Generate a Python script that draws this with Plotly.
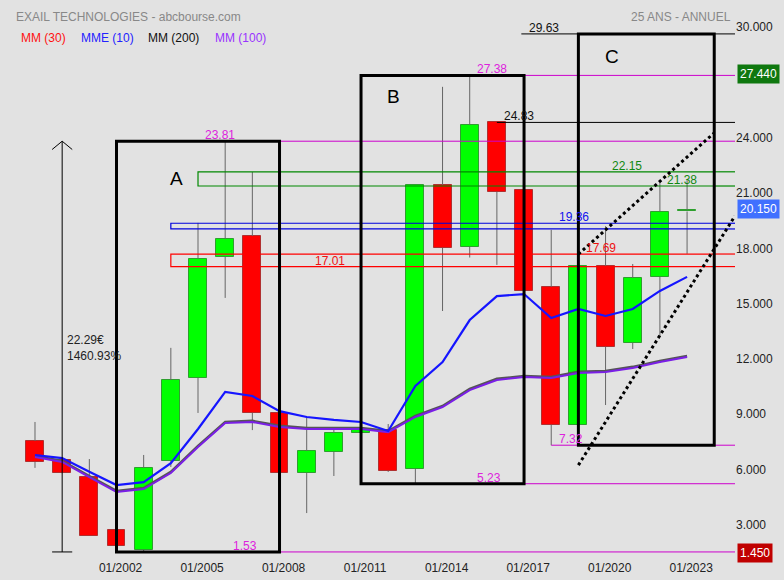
import plotly.graph_objects as go

# ---------------- data ----------------
years = list(range(1999, 2024))
open_ = [7.55, 6.52, 5.60, 2.72, 1.64, 6.47, 10.97, 17.53, 18.67, 9.07, 5.81, 6.95, 7.98,
         8.14, 6.03, 21.44, 18.08, 24.83, 21.17, 15.91, 8.42, 17.05, 12.87, 16.45, 20.00]
high = [8.58, 6.55, 6.57, 2.75, 6.79, 12.60, 19.38, 23.81, 22.14, 9.10, 8.85, 8.20, 8.14,
        8.47, 21.44, 26.76, 27.38, 24.83, 21.20, 19.00, 17.05, 19.20, 17.15, 21.55, 21.70]
low = [6.09, 5.80, 2.40, 1.85, 1.53, 6.14, 9.07, 15.31, 8.14, 5.81, 3.64, 5.65, 7.98,
       5.87, 5.23, 14.60, 17.50, 17.10, 15.69, 7.32, 8.42, 9.50, 12.54, 13.19, 17.70]
close = [6.41, 5.81, 2.40, 1.85, 6.09, 10.86, 17.43, 18.51, 9.07, 5.81, 7.01, 7.98, 8.14,
         5.92, 21.44, 18.02, 24.70, 21.06, 15.69, 8.42, 17.05, 12.65, 16.39, 19.98, 20.10]

mme10 = [6.79, 6.62, 5.88, 5.16, 5.32, 6.35, 8.20, 10.21, 9.99, 9.17, 8.85, 8.69, 8.58,
         8.09, 10.53, 11.83, 14.11, 15.41, 15.52, 14.22, 14.71, 14.33, 14.71, 15.69, 16.45]
mm100 = [6.68, 6.41, 5.59, 4.78, 4.94, 5.81, 7.22, 8.52, 8.58, 8.31, 8.20, 8.20, 8.20,
         8.03, 8.85, 9.39, 10.31, 10.86, 11.02, 10.96, 11.24, 11.29, 11.51, 11.83, 12.10]
mm200 = [6.74, 6.47, 5.65, 4.84, 5.00, 5.87, 7.28, 8.58, 8.64, 8.37, 8.26, 8.26, 8.26,
         8.09, 8.91, 9.45, 10.37, 10.92, 11.08, 11.02, 11.30, 11.35, 11.57, 11.89, 12.16]

tick_years = [2002, 2005, 2008, 2011, 2014, 2017, 2020, 2023]
tick_labels = ["01/2002", "01/2005", "01/2008", "01/2011", "01/2014", "01/2017", "01/2020", "01/2023"]
y_ticks = [3, 6, 9, 12, 15, 18, 21, 24, 30]

# horizontal levels: value, start year, colour
level_vals = [29.63, 27.38, 24.83, 23.81, 7.32, 5.23, 1.53]
level_start = [2016.9, 2015.0, 2016.0, 2005.0, 2018.0, 2015.0, 2006.0]
level_cols = ["#000000", "#cc00cc", "#000000", "#cc00cc", "#cc00cc", "#cc00cc", "#cc00cc"]

# zones (low, high, start year, colour)
zone_low = [17.01, 19.05, 21.38]
zone_high = [17.69, 19.36, 22.15]
zone_start = [2004.0, 2004.0, 2005.0]
zone_cols = ["#ff0000", "#0000dd", "#008800"]
zone_lbl_vals = [17.01, 17.69, 19.36, 22.15, 21.38]
zone_lbl_x = [2009.25, 2019.2, 2018.2, 2020.15, 2022.2]
zone_lbl_cols = ["#ee1111", "#ee1111", "#1111ee", "#118811", "#118811"]

# boxes A, B, C : x0, x1, y0, y1
box_names = ["A", "B", "C"]
box_x0 = [2002, 2011, 2019]
box_x1 = [2008, 2017, 2024]
box_y0 = [1.53, 5.23, 7.32]
box_y1 = [23.81, 27.38, 29.63]
box_lbl_x = [2004.2, 2012.2, 2020.25]
box_lbl_y = [21.8, 26.26, 28.4]

# dotted trend lines
trend_x0 = [2019, 2019]
trend_y0 = [17.69, 6.24]
trend_x1 = [2024, 2024.76]
trend_y1 = [24.26, 19.75]

# measurement low -> high
meas_low, meas_high = 1.53, 23.81
meas_abs, meas_pct = 22.29, 1460.93

XMIN, XMAX = 1997.712, 2024.764
YMIN, YMAX = 1.31, 31.47

FONT = "Liberation Sans, Arial, sans-serif"
BG = "#e2e2e2"

fig = go.Figure()

# wicks (upper and lower parts so they stay behind bodies)
wx, wy = [], []
for x, o, h, l, c in zip(years, open_, high, low, close):
    top, bot = max(o, c), min(o, c)
    if h > top:
        wx += [x, x, None]; wy += [top, h, None]
    if l < bot:
        wx += [x, x, None]; wy += [l, bot, None]
fig.add_trace(go.Scatter(x=wx, y=wy, mode="lines", line=dict(color="#666666", width=1),
                         hoverinfo="skip", showlegend=False))

base = [min(o, c) for o, c in zip(open_, close)]
hgt = [abs(c - o) for o, c in zip(open_, close)]
fill = ["#00ff00" if c >= o else "#ff0000" for o, c in zip(open_, close)]
edge = ["#2f9f2f" if c >= o else "#b03030" for o, c in zip(open_, close)]
fig.add_trace(go.Bar(x=years, y=hgt, base=base, width=0.66,
                     marker=dict(color=fill, line=dict(color=edge, width=1)),
                     showlegend=False))

fig.add_trace(go.Scatter(x=years, y=mm200, mode="lines", line=dict(color="#555555", width=2.5),
                         showlegend=False))
fig.add_trace(go.Scatter(x=years, y=mm100, mode="lines", line=dict(color="#7a1fe6", width=2),
                         showlegend=False))
fig.add_trace(go.Scatter(x=years, y=mme10, mode="lines", line=dict(color="#1515ff", width=2.2),
                         showlegend=False))

shapes = []
ann = []

# levels
for v, s, col in zip(level_vals, level_start, level_cols):
    shapes.append(dict(type="line", xref="x", yref="y", x0=s, x1=XMAX, y0=v, y1=v,
                       line=dict(color=col, width=1)))
    ann.append(dict(x=s + 0.2, y=v, xref="x", yref="y", text=f"{v:.2f}", showarrow=False,
                    xanchor="left", yanchor="bottom", yshift=-3,
                    font=dict(family=FONT, size=12, color=("#dd22dd" if col != "#000000" else "#111111"))))

# zones
for lo, hi, s, col in zip(zone_low, zone_high, zone_start, zone_cols):
    shapes.append(dict(type="rect", xref="x", yref="y", x0=s, x1=2024, y0=lo, y1=hi,
                       line=dict(color=col, width=1.2)))
    for v in (lo, hi):
        shapes.append(dict(type="line", xref="x", yref="y", x0=2024, x1=XMAX, y0=v, y1=v,
                           line=dict(color=col, width=1.2)))
for v, x, col in zip(zone_lbl_vals, zone_lbl_x, zone_lbl_cols):
    ann.append(dict(x=x, y=v, xref="x", yref="y", text=f"{v:.2f}", showarrow=False,
                    xanchor="left", yanchor="bottom", yshift=-3,
                    font=dict(family=FONT, size=12, color=col)))

# boxes
for n, x0, x1, y0, y1, lx, ly in zip(box_names, box_x0, box_x1, box_y0, box_y1, box_lbl_x, box_lbl_y):
    shapes.append(dict(type="rect", xref="x", yref="y", x0=x0, x1=x1, y0=y0, y1=y1,
                       line=dict(color="#000000", width=3)))
    ann.append(dict(x=lx, y=ly, xref="x", yref="y", text=n, showarrow=False,
                    font=dict(family=FONT, size=19, color="#000000")))

# trend lines
for x0, y0, x1, y1 in zip(trend_x0, trend_y0, trend_x1, trend_y1):
    shapes.append(dict(type="line", xref="x", yref="y", x0=x0, y0=y0, x1=x1, y1=y1,
                       line=dict(color="#000000", width=3, dash="dot")))

# measurement
mx = 2000
shapes.append(dict(type="line", xref="x", yref="y", x0=mx, x1=mx, y0=meas_low, y1=meas_high,
                   line=dict(color="#000000", width=1)))
shapes.append(dict(type="line", xref="x", yref="y", x0=mx - 0.37, x1=mx + 0.37, y0=meas_low, y1=meas_low,
                   line=dict(color="#000000", width=1)))
shapes.append(dict(type="path", xref="x", yref="y",
                   path=f"M {mx-0.37},{meas_high-0.45} L {mx},{meas_high} L {mx+0.37},{meas_high-0.45}",
                   line=dict(color="#000000", width=1)))
ann.append(dict(x=mx + 0.12, y=12.6, xref="x", yref="y",
                text=f"{meas_abs:.2f}€<br>{meas_pct:.2f}%",
                showarrow=False, xanchor="left", align="left",
                font=dict(family=FONT, size=12, color="#222222")))

# title / legend texts
PH = 556.0
def py(px):
    return 1 - px / PH

ann.append(dict(x=14 / 735, y=py(8), xref="paper", yref="paper", text="EXAIL TECHNOLOGIES - abcbourse.com",
                showarrow=False, xanchor="left", font=dict(family=FONT, size=12, color="#888888")))
ann.append(dict(x=733 / 735, y=py(8), xref="paper", yref="paper", text="25 ANS - ANNUEL",
                showarrow=False, xanchor="right", font=dict(family=FONT, size=12, color="#888888")))
leg_txt = ["MM (30)", "MME (10)", "MM (200)", "MM (100)"]
leg_col = ["#ff1111", "#2222ff", "#111111", "#9933ff"]
leg_x = [19, 79, 146, 213]
for t, c, x in zip(leg_txt, leg_col, leg_x):
    ann.append(dict(x=x / 735, y=py(29), xref="paper", yref="paper", text=t, showarrow=False,
                    xanchor="left", font=dict(family=FONT, size=12, color=c)))

# right-axis value boxes
box_vals = [27.44, 20.15, 1.45]
box_bg = ["#0f780f", "#4070ff", "#c00000"]
for v, bg in zip(box_vals, box_bg):
    ann.append(dict(x=1, y=v, xref="paper", yref="y", text=f"{v:.3f}", showarrow=False,
                    xanchor="left", xshift=2, bgcolor=bg, borderpad=2,
                    font=dict(family=FONT, size=12, color="#ffffff")))

fig.update_layout(
    width=784, height=580,
    margin=dict(l=0, r=49, t=0, b=24),
    paper_bgcolor=BG, plot_bgcolor=BG,
    showlegend=False,
    shapes=shapes, annotations=ann,
    bargap=0,
    xaxis=dict(range=[XMIN, XMAX], showgrid=False, zeroline=False, showline=False,
               tickvals=[t + 0.15 for t in tick_years], ticktext=tick_labels, ticks="",
               ticklabelstandoff=3,
               tickfont=dict(family=FONT, size=12, color="#222222")),
    yaxis=dict(range=[YMIN, YMAX], side="right", showgrid=False, zeroline=False, showline=False,
               tickvals=y_ticks, ticktext=[f"{v:.3f}" for v in y_ticks], ticks="",
               tickfont=dict(family=FONT, size=12, color="#222222")),
)

fig.write_html("out.html", config={"displayModeBar": False},
               post_script="document.body.style.margin='0';document.body.style.background='" + BG + "';")
